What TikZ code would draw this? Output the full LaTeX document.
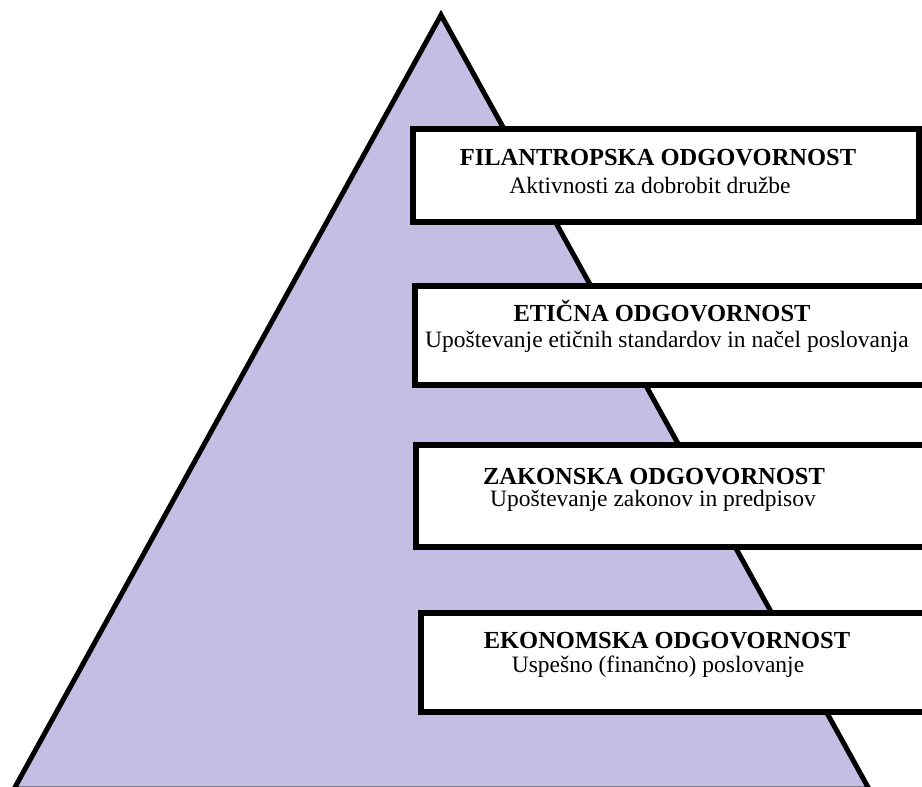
\documentclass[tikz,border=0pt]{standalone}
\usepackage{fontspec}
\setmainfont{Liberation Serif}
\definecolor{pyr}{RGB}{196,190,228}
\begin{document}
\begin{tikzpicture}[x=1pt,y=-1pt,
  layer/.style={draw=black,line width=6pt,fill=white,inner sep=0pt,rectangle},
  ttl/.style={anchor=base,inner sep=0pt,font=\fontsize{24.5}{28}\selectfont\bfseries},
  sub/.style={anchor=base,inner sep=0pt,font=\fontsize{23.5}{28}\selectfont}]
\useasboundingbox (0,0) rectangle (922,787);
\coordinate (apex) at (441,15);
\coordinate (bl) at (14,789);
\coordinate (br) at (869,789);
\draw[fill=pyr,line width=5pt,line join=miter] (bl) -- (apex) -- (br) -- cycle;
\node[layer,minimum width=506pt,minimum height=93pt] (b1) at (666,175.5) {};
\node[layer,minimum width=515pt,minimum height=99pt] (b2) at (672.5,335.5) {};
\node[layer,minimum width=514pt,minimum height=102pt] (b3) at (673,496) {};
\node[layer,minimum width=509pt,minimum height=99pt] (b4) at (675.5,662.5) {};
\node[ttl] (t1) at (658,165) {FILANTROPSKA ODGOVORNOST};
\node[sub] (s1) at (650,193) {Aktivnosti za dobrobit družbe};
\node[ttl] (t2) at (662,321) {ETIČNA ODGOVORNOST};
\node[sub] (s2) at (667,347) {Upoštevanje etičnih standardov in načel poslovanja};
\node[ttl] (t3) at (654,484) {ZAKONSKA ODGOVORNOST};
\node[sub] (s3) at (653,506) {Upoštevanje zakonov in predpisov};
\node[ttl] (t4) at (667,648) {EKONOMSKA ODGOVORNOST};
\node[sub] (s4) at (658,672) {Uspešno (finančno) poslovanje};
\end{tikzpicture}
\end{document}
